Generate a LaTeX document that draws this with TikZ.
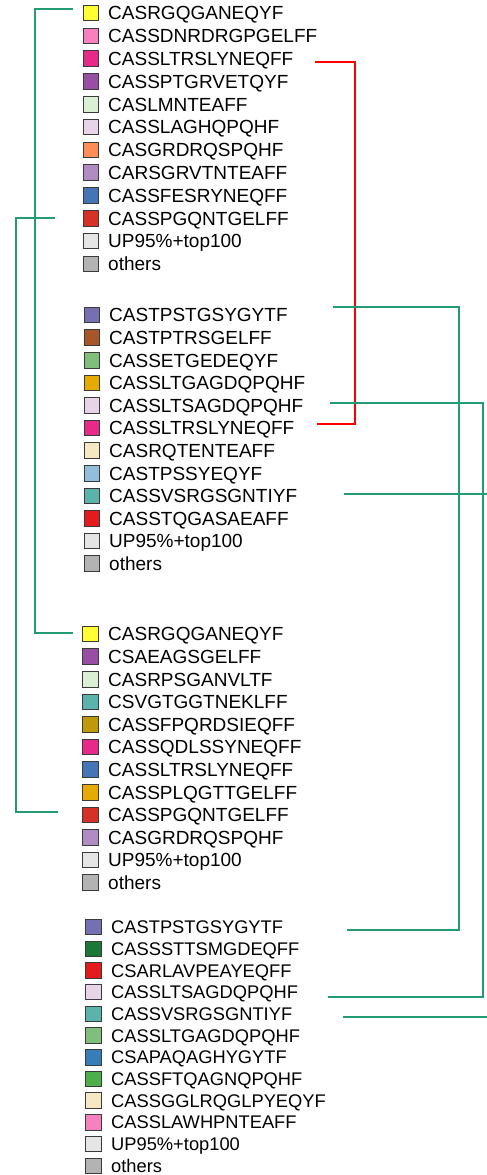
\documentclass[tikz,border=0pt]{standalone}
\usepackage{fontspec}
\setmainfont{Liberation Sans}
\definecolor{lgreen}{RGB}{35,156,118}
\definecolor{lred}{RGB}{255,0,0}
\definecolor{swb}{HTML}{3A3A3A}
\definecolor{cYel}{HTML}{FFFF33}
\definecolor{cPink}{HTML}{F781BF}
\definecolor{cMag}{HTML}{E7298A}
\definecolor{cPur}{HTML}{984EA3}
\definecolor{cPaleG}{HTML}{D9F0D3}
\definecolor{cLav}{HTML}{E7D4E8}
\definecolor{cOra}{HTML}{FC8D59}
\definecolor{cLila}{HTML}{AF8DC3}
\definecolor{cBlu}{HTML}{4575B4}
\definecolor{cRed}{HTML}{D73027}
\definecolor{cUP}{HTML}{E5E5E5}
\definecolor{cOth}{HTML}{B3B3B3}
\definecolor{cSlate}{HTML}{7570B3}
\definecolor{cBrown}{HTML}{A65628}
\definecolor{cMidG}{HTML}{7FBF7B}
\definecolor{cGold}{HTML}{E6AB02}
\definecolor{cCream}{HTML}{F6E8C3}
\definecolor{cSky}{HTML}{91BFDB}
\definecolor{cTeal}{HTML}{5AB4AC}
\definecolor{cRed2}{HTML}{E41A1C}
\definecolor{cOlive}{HTML}{BE9A0B}
\definecolor{cDkG}{HTML}{1B7837}
\definecolor{cBlu2}{HTML}{377EB8}
\definecolor{cGrn}{HTML}{4DAF4A}
\begin{document}
\begin{tikzpicture}[x=1pt,y=-1pt,
  sw/.style={draw=swb, line width=0.9pt, minimum size=15.5pt, inner sep=0pt},
  lab/.style={anchor=base west, inner sep=0pt, font=\fontsize{19}{19}\selectfont},
  labsmall/.style={anchor=base west, inner sep=0pt, font=\fontsize{18.3}{18.3}\selectfont},
  gline/.style={draw=lgreen, line width=2pt},
  rline/.style={draw=lred, line width=2pt}]
\useasboundingbox (0,0) rectangle (487,1175);
% legend 1
\foreach \col/\txt [count=\i] in {cYel/CASRGQGANEQYF, cPink/CASSDNRDRGPGELFF, cMag/CASSLTRSLYNEQFF, cPur/CASSPTGRVETQYF, cPaleG/CASLMNTEAFF, cLav/CASSLAGHQPQHF, cOra/CASGRDRQSPQHF, cLila/CARSGRVTNTEAFF, cBlu/CASSFESRYNEQFF, cRed/CASSPGQNTGELFF, cUP/UP95\%+top100, cOth/others}{
  \node[sw, fill=\col] (a\i s) at (91,{13+(\i-1)*22.8}) {};
  \node[lab] (a\i) at (108,{19.8+(\i-1)*22.8}) {\txt};
}
% legend 2
\foreach \col/\txt [count=\i] in {cSlate/CASTPSTGSYGYTF, cBrown/CASTPTRSGELFF, cMidG/CASSETGEDEQYF, cGold/CASSLTGAGDQPQHF, cLav/CASSLTSAGDQPQHF, cMag/CASSLTRSLYNEQFF, cCream/CASRQTENTEAFF, cSky/CASTPSSYEQYF, cTeal/CASSVSRGSGNTIYF, cRed2/CASSTQGASAEAFF, cUP/UP95\%+top100, cOth/others}{
  \node[sw, fill=\col] (b\i s) at (92,{315+(\i-1)*22.6}) {};
  \node[lab] (b\i) at (109,{321.8+(\i-1)*22.6}) {\txt};
}
% legend 3
\foreach \col/\txt [count=\i] in {cYel/CASRGQGANEQYF, cPur/CSAEAGSGELFF, cPaleG/CASRPSGANVLTF, cTeal/CSVGTGGTNEKLFF, cOlive/CASSFPQRDSIEQFF, cMag/CASSQDLSSYNEQFF, cBlu/CASSLTRSLYNEQFF, cGold/CASSPLQGTTGELFF, cRed/CASSPGQNTGELFF, cLila/CASGRDRQSPQHF, cUP/UP95\%+top100, cOth/others}{
  \node[sw, fill=\col] (c\i s) at (90.5,{634+(\i-1)*22.6}) {};
  \node[lab] (c\i) at (108,{640.8+(\i-1)*22.6}) {\txt};
}
% legend 4
\foreach \col/\txt [count=\i] in {cSlate/CASTPSTGSYGYTF, cDkG/CASSSTTSMGDEQFF, cRed2/CSARLAVPEAYEQFF, cLav/CASSLTSAGDQPQHF, cTeal/CASSVSRGSGNTIYF, cMidG/CASSLTGAGDQPQHF, cBlu2/CSAPAQAGHYGYTF, cGrn/CASSFTQAGNQPQHF, cCream/CASSGGLRQGLPYEQYF, cPink/CASSLAWHPNTEAFF, cUP/UP95\%+top100, cOth/others}{
  \node[sw, fill=\col] (d\i s) at (93.5,{927+(\i-1)*21.7}) {};
  \node[labsmall] (d\i) at (111,{933.6+(\i-1)*21.7}) {\txt};
}
% connector end points
\coordinate (gA1) at (73,9);   \coordinate (gA2) at (73,633);  \coordinate (gAx) at (35,0);
\coordinate (gB1) at (55,218); \coordinate (gB2) at (58,812);  \coordinate (gBx) at (16,0);
\coordinate (rR1) at (315,62); \coordinate (rR2) at (317,424); \coordinate (rRx) at (355,0);
\coordinate (gC1) at (333,307);\coordinate (gC2) at (347,930); \coordinate (gCx) at (459,0);
\coordinate (gD1) at (330,403);\coordinate (gD2) at (328,997); \coordinate (gDx) at (483,0);
\coordinate (gE1) at (344,494);\coordinate (gE1e) at (487,494);
\coordinate (gE2) at (343,1017);\coordinate (gE2e) at (487,1017);
% connectors
\draw[gline] (gA1) -- (gA1 -| gAx) -- (gA2 -| gAx) -- (gA2);
\draw[gline] (gB1) -- (gB1 -| gBx) -- (gB2 -| gBx) -- (gB2);
\draw[rline] (rR1) -- (rR1 -| rRx) -- (rR2 -| rRx) -- (rR2);
\draw[gline] (gC1) -- (gC1 -| gCx) -- (gC2 -| gCx) -- (gC2);
\draw[gline] (gD1) -- (gD1 -| gDx) -- (gD2 -| gDx) -- (gD2);
\draw[gline] (gE1) -- (gE1e);
\draw[gline] (gE2) -- (gE2e);
\end{tikzpicture}
\end{document}
